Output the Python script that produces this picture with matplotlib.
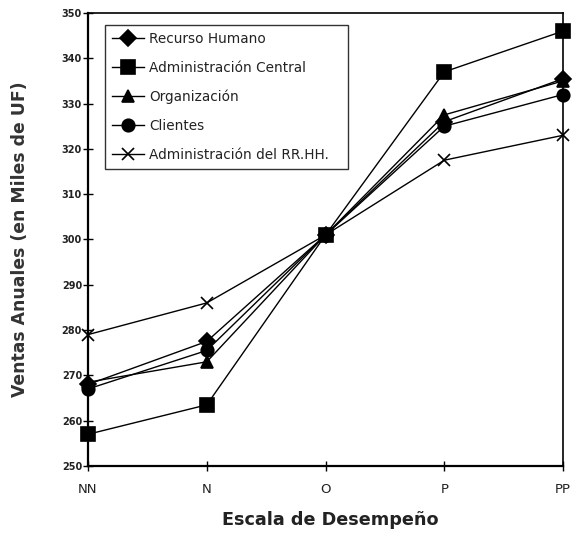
import matplotlib
matplotlib.use("Agg")
import matplotlib.pyplot as plt

plt.rcParams['font.family'] = ['DejaVu Sans']

categories = ["NN", "N", "O", "P", "PP"]

recurso_humano = [268, 277.5, 301, 326, 335.5]
admin_central = [257, 263.5, 301, 337, 346]
organizacion = [268.5, 273, 301, 327.5, 335]
clientes = [267, 275.5, 301, 325, 332]
admin_rrhh = [279, 286, 301, 317.5, 323]

series = [
    ("Recurso Humano", recurso_humano, "D", 8),
    ("Administración Central", admin_central, "s", 10),
    ("Organización", organizacion, "^", 9),
    ("Clientes", clientes, "o", 9),
    ("Administración del RR.HH.", admin_rrhh, "x", 8),
]

fig = plt.figure(figsize=(5.74, 5.33), dpi=100)
ax = fig.add_axes([0.1533, 0.1257, 0.8277, 0.85])

x = list(range(len(categories)))
for name, vals, mk, ms in series:
    ax.plot(x, vals, color="black", linewidth=1.0, marker=mk, markersize=ms,
            markerfacecolor="black", markeredgecolor="black",
            markeredgewidth=1.2, label=name, clip_on=False)

ax.set_xlim(0, 4)
ax.set_ylim(250, 350)
ax.set_xticks(x)
ax.set_xticklabels(categories, fontsize=9.5, color="#222222")
ax.set_yticks(range(250, 351, 10))
for lbl in ax.get_yticklabels():
    lbl.set_fontweight("bold")
ax.tick_params(axis="y", labelsize=7, direction="inout", length=6.5, width=1,
               pad=1, labelcolor="#222222")
ax.tick_params(axis="x", direction="inout", length=6.5, width=1, pad=9)
for s in ax.spines.values():
    s.set_linewidth(1.2)
ax.spines["left"].set_linewidth(1.6)
ax.spines["bottom"].set_linewidth(1.6)

ax.set_ylabel("Ventas Anuales (en Miles de UF)", fontsize=12.4, fontweight="bold",
              color="#333333")
ax.yaxis.set_label_coords(-0.124, 0.5)
ax.set_xlabel("Escala de Desempeño", fontsize=12.7, fontweight="bold",
              color="#222222")
ax.xaxis.set_label_coords(0.51, -0.1)

leg = ax.legend(loc="upper left", bbox_to_anchor=(0.0358, 0.0, 0.5116, 0.9735),
                mode="expand", fontsize=9.8,
                frameon=True, fancybox=False, edgecolor="black",
                handlelength=2.35, handletextpad=0.37, borderpad=0.5,
                labelspacing=1.1, borderaxespad=0)
leg.get_frame().set_linewidth(1.0)
for t in leg.get_texts():
    t.set_color("#222222")

fig.savefig("out.png", dpi=100)
